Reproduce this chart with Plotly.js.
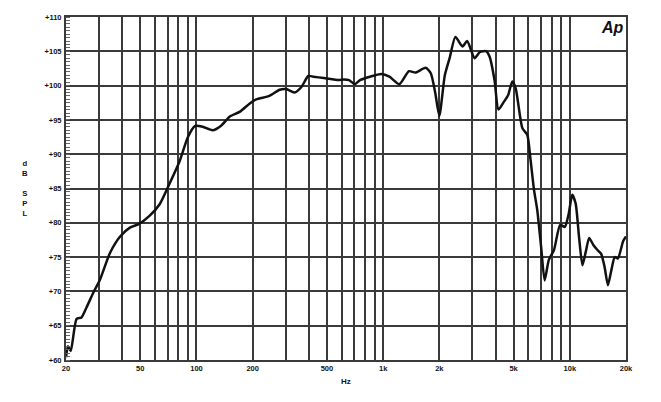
<!DOCTYPE html>
<html>
<head>
<meta charset="utf-8">
<script src="https://cdn.plot.ly/plotly-3.0.1.min.js"></script>
<style>html,body{margin:0;padding:0;background:#fff;}#chart{width:661px;height:402px;}</style>
</head>
<body>
<div id="chart"></div>
<script>
// Frequency (Hz) and SPL (dB)
const freqHz = [20, 20.5, 21.2, 22.8, 24.2, 25.8, 28.0, 30.4, 34.4, 39.0, 44, 49, 56, 63.5, 72, 81, 90, 98, 108, 122, 136, 151, 171, 193, 209, 246, 279, 303, 335, 365, 397, 423, 480, 545, 580, 617, 657, 705, 752, 849, 978, 1080, 1220, 1375, 1490, 1690, 1800, 1900, 2000, 2140, 2270, 2440, 2660, 2820, 3090, 3300, 3570, 3720, 3950, 4150, 4450, 4670, 4920, 5130, 5570, 5920, 6160, 6430, 6690, 7020, 7330, 7720, 8220, 8880, 9400, 9880, 10300, 10750, 11200, 11680, 12180, 12700, 13340, 14100, 14700, 15350, 16000, 16700, 17400, 18100, 19300, 20000];
const splDb  = [60.4, 62.0, 61.3, 66.0, 66.2, 67.7, 69.8, 71.7, 75.6, 78.0, 79.3, 79.8, 81.0, 82.7, 85.8, 88.9, 92.5, 94.1, 94.0, 93.5, 94.2, 95.5, 96.2, 97.4, 98.0, 98.5, 99.4, 99.5, 99.0, 99.8, 101.4, 101.3, 101.1, 100.9, 100.8, 100.9, 100.8, 100.2, 100.8, 101.3, 101.7, 101.3, 100.2, 102.1, 101.9, 102.6, 101.8, 99.0, 95.6, 101.5, 104.0, 107.1, 105.7, 106.5, 104.0, 104.9, 105.0, 104.2, 100.8, 96.5, 97.7, 98.6, 100.6, 99.6, 93.8, 92.8, 89.2, 84.8, 81.9, 76.5, 71.6, 74.6, 76.0, 79.7, 79.4, 81.4, 84.1, 82.8, 78.0, 73.8, 75.8, 77.8, 76.8, 76.0, 75.5, 73.6, 70.9, 73.1, 75.0, 74.8, 77.3, 78.0];

const xTickVals = [20,30,40,50,60,70,80,90,100,200,300,400,500,600,700,800,900,1000,2000,3000,4000,5000,6000,7000,8000,9000,10000,20000];
const xTickText = ['20','','','50','','','','','100','200','','','500','','','','','1k','2k','','','5k','','','','','10k','20k'];
const yTickVals = [60,65,70,75,80,85,90,95,100,105,110];
const yTickText = ['+60','+65','+70','+75','+80','+85','+90','+95','+100','+105','+110'];

const tickFont = {family: 'Liberation Sans, Arial, sans-serif', size: 7.5, color: '#111', weight: 'bold'};

const trace = {
  x: freqHz, y: splDb, type: 'scatter', mode: 'lines',
  line: {color: '#111', width: 2.5, shape: 'spline', smoothing: 0.6},
  hoverinfo: 'skip'
};

const layout = {
  width: 661, height: 402,
  margin: {l: 66, r: 35, t: 17, b: 42},
  paper_bgcolor: '#fff', plot_bgcolor: '#fff',
  showlegend: false,
  xaxis: {
    type: 'log', range: [Math.log10(20), Math.log10(20000)],
    tickmode: 'array', tickvals: xTickVals, ticktext: xTickText,
    showgrid: true, gridcolor: '#3a3a3a', gridwidth: 2,
    showline: true, linecolor: '#3a3a3a', linewidth: 2, mirror: true,
    ticks: '', tickfont: tickFont, zeroline: false
  },
  yaxis: {
    range: [60, 110],
    tickmode: 'array', tickvals: yTickVals, ticktext: yTickText,
    showgrid: true, gridcolor: '#3a3a3a', gridwidth: 2,
    showline: true, linecolor: '#3a3a3a', linewidth: 2, mirror: true,
    ticks: '', tickfont: tickFont, zeroline: false, ticklabelstandoff: 1,
    minor: {dtick: 0.5, ticks: 'inside', ticklen: 4, tickcolor: '#666', tickwidth: 1, showgrid: false}
  },
  annotations: [
    {text: 'd<br>B<br><br>S<br>P<br>L', xref: 'paper', yref: 'paper', x: -0.073, y: 0.5, xanchor: 'center', yanchor: 'middle', showarrow: false, align: 'center',
     font: {family: 'Liberation Sans, Arial, sans-serif', size: 7.7, color: '#111', weight: 'bold'}},
    {text: 'Hz', xref: 'paper', yref: 'paper', x: 0.5, y: -0.063, xanchor: 'center', yanchor: 'middle', showarrow: false,
     font: {family: 'Liberation Sans, Arial, sans-serif', size: 8, color: '#111', weight: 'bold'}},
    {text: '<b><i>Ap</i></b>', xref: 'paper', yref: 'paper', x: 0.975, y: 0.97, xanchor: 'center', yanchor: 'middle', showarrow: false,
     font: {family: 'Liberation Sans, Arial, sans-serif', size: 16, color: '#111'}}
  ]
};

Plotly.newPlot('chart', [trace], layout, {displayModeBar: false, staticPlot: true});
</script>
</body>
</html>
